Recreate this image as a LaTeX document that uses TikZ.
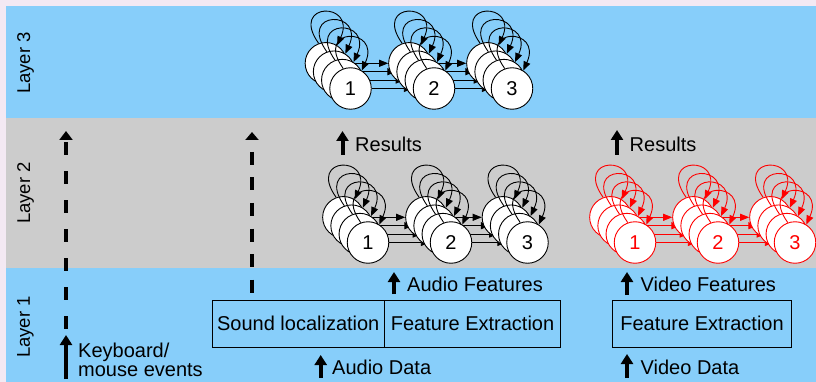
\documentclass[tikz,border=0pt]{standalone}
\usepackage{fontspec}
\setmainfont{Liberation Sans}
\usetikzlibrary{arrows.meta}
\pgfdeclarelayer{bg}
\pgfdeclarelayer{mid}
\pgfsetlayers{bg,mid,main}
\definecolor{skyb}{RGB}{135,206,250}
\definecolor{bandgray}{RGB}{204,204,204}
\definecolor{marg}{RGB}{243,233,243}
\newcommand\bigfont{\fontsize{20}{19}\selectfont}
\tikzset{
  txt/.style={font=\bigfont, inner sep=0pt, anchor=west},
  lay/.style={font=\fontsize{18.5}{18}\selectfont, inner sep=0pt, rotate=90},
  state/.style={circle, draw=#1, fill=white, minimum size=41.5pt, inner sep=0pt,
    line width=0.9pt, text=#1, font=\bigfont},
  trans/.style={draw=#1, line width=0.9pt, -{Triangle[width=7pt,length=9pt]}},
  selfl/.style={draw=#1, line width=0.9pt, -{Triangle[width=7pt,length=9pt]}},
  uparr/.style={line width=4pt, -{Triangle[width=12pt,length=10pt]}},
  dashline/.style={line width=4pt},
  procbox/.style={draw=black, line width=1pt, minimum height=47pt, inner sep=0pt, font=\bigfont}
}
\newcommand\hmmstack[5]{%
  \foreach \i in {0,1,2}{%
    \pgfmathsetmacro\xx{#2-8.2*(3-\i)}%
    \pgfmathsetmacro\yy{#3-8.4*(3-\i)}%
    \node[state=#4] (#1-\i) at (\xx,\yy) {};
  }%
  \node[state=#4] (#1-3) at (#2,#3) {#5};
}
\newcommand\hmmloops[2]{%
  \foreach \i in {0,1,2,3}{%
    \draw[selfl=#2] (#1-\i.110) .. controls +(-30,-42) and +(20,-44) .. (#1-\i.58);
  }%
}
\newcommand\hmmtrans[3]{%
  \foreach \i in {0,1,2,3}{%
    \draw[trans=#3] (#1-\i) -- (#2-\i);
  }%
}
\begin{document}
\begin{tikzpicture}[x=1pt,y=-1pt]
\useasboundingbox (0,0) rectangle (816,382);
\begin{pgfonlayer}{bg}
  \fill[marg] (0,0) rectangle (816,382);
  \fill[skyb] (6,6) rectangle (816,118);
  \fill[bandgray] (6,118) rectangle (816,268);
  \fill[skyb] (6,268) rectangle (816,382);
\end{pgfonlayer}

% layer labels
\node[lay] (l3) at (25.5,63) {Layer 3};
\node[lay] (l2) at (25.5,193) {Layer 2};
\node[lay] (l1) at (25.5,327) {Layer 1};

% HMM stacks
\hmmstack{a}{350.5}{88.5}{black}{1}
\hmmstack{b}{434}{88.5}{black}{2}
\hmmstack{c}{512}{88.5}{black}{3}
\hmmstack{d}{368}{242.5}{black}{1}
\hmmstack{e}{451}{242.5}{black}{2}
\hmmstack{f}{527.5}{242.5}{black}{3}
\hmmstack{g}{635}{242.5}{red}{1}
\hmmstack{h}{718}{242.5}{red}{2}
\hmmstack{k}{795}{242.5}{red}{3}

\begin{pgfonlayer}{mid}
  \hmmtrans{a}{b}{black}
  \hmmtrans{b}{c}{black}
  \hmmtrans{d}{e}{black}
  \hmmtrans{e}{f}{black}
  \hmmtrans{g}{h}{red}
  \hmmtrans{h}{k}{red}
\end{pgfonlayer}

\hmmloops{a}{black}
\hmmloops{b}{black}
\hmmloops{c}{black}
\hmmloops{d}{black}
\hmmloops{e}{black}
\hmmloops{f}{black}
\hmmloops{g}{red}
\hmmloops{h}{red}
\hmmloops{k}{red}

% dashed event lines
\coordinate (d1t) at (66,131);
\coordinate (d1b) at (66,330);
\draw[dashline, dash pattern=on 13pt off 16pt, dash phase=26pt,
  {Triangle[width=13pt,length=9pt]}-] (d1t) -- (d1b);
\coordinate (d2t) at (252,132);
\coordinate (d2b) at (252,294);
\draw[dashline, dash pattern=on 13pt off 12.5pt, dash phase=13pt,
  {Triangle[width=13pt,length=8pt]}-] (d2t) -- (d2b);

% boxes
\node[procbox, minimum width=172.5pt] (sl) at (298.25,323.5) {Sound localization};
\node[procbox, minimum width=176pt] (fe) at (472.5,323.5) {Feature Extraction};
\node[procbox, minimum width=179.4pt] (vfe) at (702,323.6) {Feature Extraction};

% small arrows and labels
\coordinate (r1b) at (342.5,155); \coordinate (r1t) at (342.5,131);
\draw[uparr] (r1b) -- (r1t);
\node[txt] (r1) at (355,144) {Results};
\coordinate (r2b) at (617,155); \coordinate (r2t) at (617,130);
\draw[uparr] (r2b) -- (r2t);
\node[txt] (r2) at (629.5,144) {Results};

\coordinate (afb) at (394,294); \coordinate (aft) at (394,272);
\draw[uparr] (afb) -- (aft);
\node[txt] (af) at (407,284) {Audio Features};
\coordinate (vfb) at (627,295); \coordinate (vft) at (627,272);
\draw[uparr] (vfb) -- (vft);
\node[txt] (vf) at (640.5,284) {Video Features};

\coordinate (adb) at (320.7,378); \coordinate (adt) at (320.7,355);
\draw[uparr] (adb) -- (adt);
\node[txt] (ad) at (332,367) {Audio Data};
\coordinate (vdb) at (627,378); \coordinate (vdt) at (627,354);
\draw[uparr] (vdb) -- (vdt);
\node[txt] (vd) at (640.5,367) {Video Data};

\coordinate (kbb) at (66,379); \coordinate (kbt) at (66,335);
\draw[uparr] (kbb) -- (kbt);
\node[txt, align=left] (kb) at (78,359.5) {Keyboard/\\mouse events};
\end{tikzpicture}
\end{document}
